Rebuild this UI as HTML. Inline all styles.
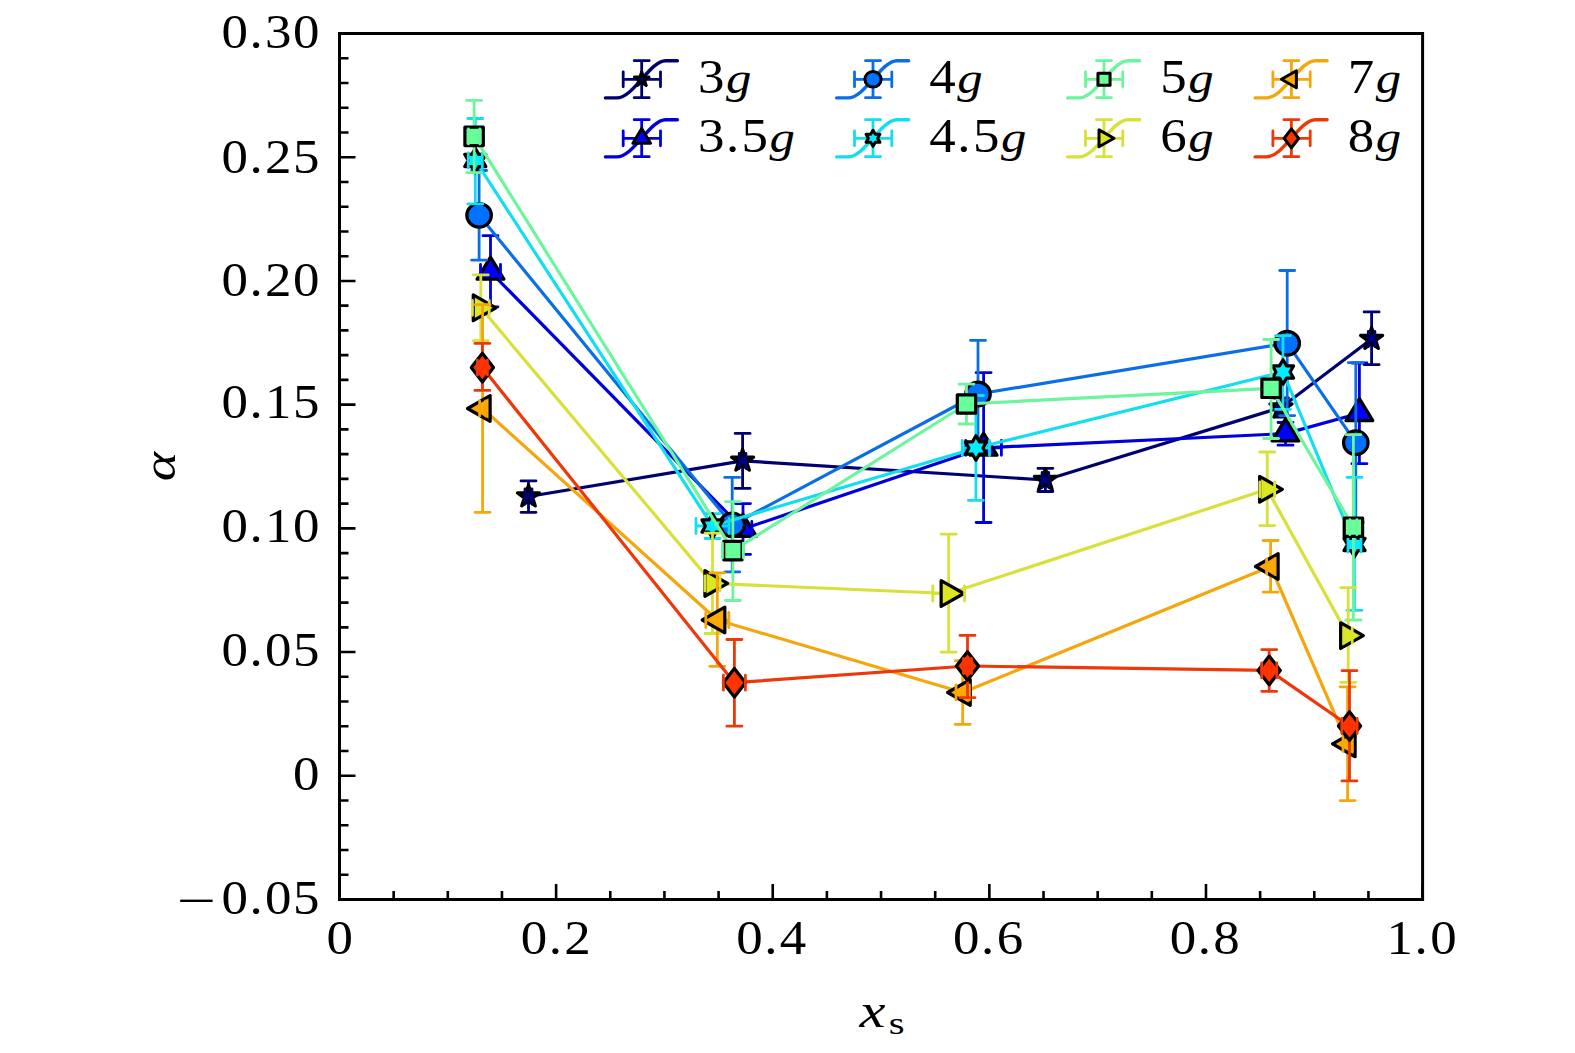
<!DOCTYPE html><html><head><meta charset="utf-8"><style>html,body{margin:0;padding:0;background:#fff;overflow:hidden;}svg{display:block;}text{font-family:"Liberation Serif",serif;}</style></head><body>
<svg width="1575" height="1053" viewBox="0 0 1575 1053">
<rect width="1575" height="1053" fill="#fff"/>
<path d="M528.50,496.50 L742.60,460.80 L1045.40,480.00 L1281.00,407.50 L1371.60,339.00" fill="none" stroke="#000072" stroke-width="3.2" stroke-linejoin="round"/>
<path d="M528.50,480.90 V512.30 M521.00,480.90 H536.00 M521.00,512.30 H536.00" stroke="#000072" stroke-width="2.8" stroke-linecap="round" fill="none"/>
<path d="M742.60,433.40 V488.40 M735.10,433.40 H750.10 M735.10,488.40 H750.10" stroke="#000072" stroke-width="2.8" stroke-linecap="round" fill="none"/>
<path d="M1045.40,468.30 V491.50 M1037.90,468.30 H1052.90 M1037.90,491.50 H1052.90" stroke="#000072" stroke-width="2.8" stroke-linecap="round" fill="none"/>
<path d="M1281.00,398.00 V417.00 M1273.50,398.00 H1288.50 M1273.50,417.00 H1288.50" stroke="#000072" stroke-width="2.8" stroke-linecap="round" fill="none"/>
<path d="M1371.60,311.90 V364.70 M1364.10,311.90 H1379.10 M1364.10,364.70 H1379.10" stroke="#000072" stroke-width="2.8" stroke-linecap="round" fill="none"/>
<path d="M525.00,496.50 H532.00" stroke="#000072" stroke-width="2.8" fill="none"/>
<path d="M739.30,460.80 H745.90" stroke="#000072" stroke-width="2.8" fill="none"/>
<path d="M1042.10,480.00 H1048.70" stroke="#000072" stroke-width="2.8" fill="none"/>
<path d="M1277.70,407.50 H1284.30" stroke="#000072" stroke-width="2.8" fill="none"/>
<path d="M1368.30,339.00 H1374.90" stroke="#000072" stroke-width="2.8" fill="none"/>
<path transform="translate(528.50,496.50)" d="M0.00,-11.60 L2.60,-3.58 L11.03,-3.58 L4.21,1.37 L6.82,9.38 L0.00,4.43 L-6.82,9.38 L-4.21,1.37 L-11.03,-3.58 L-2.60,-3.58Z" fill="#000080" stroke="#000" stroke-width="3.2" stroke-linejoin="round"/>
<path transform="translate(742.60,460.80)" d="M0.00,-11.60 L2.60,-3.58 L11.03,-3.58 L4.21,1.37 L6.82,9.38 L0.00,4.43 L-6.82,9.38 L-4.21,1.37 L-11.03,-3.58 L-2.60,-3.58Z" fill="#000080" stroke="#000" stroke-width="3.2" stroke-linejoin="round"/>
<path transform="translate(1045.40,480.00)" d="M0.00,-11.60 L2.60,-3.58 L11.03,-3.58 L4.21,1.37 L6.82,9.38 L0.00,4.43 L-6.82,9.38 L-4.21,1.37 L-11.03,-3.58 L-2.60,-3.58Z" fill="#000080" stroke="#000" stroke-width="3.2" stroke-linejoin="round"/>
<path transform="translate(1281.00,407.50)" d="M0.00,-11.60 L2.60,-3.58 L11.03,-3.58 L4.21,1.37 L6.82,9.38 L0.00,4.43 L-6.82,9.38 L-4.21,1.37 L-11.03,-3.58 L-2.60,-3.58Z" fill="#000080" stroke="#000" stroke-width="3.2" stroke-linejoin="round"/>
<path transform="translate(1371.60,339.00)" d="M0.00,-11.60 L2.60,-3.58 L11.03,-3.58 L4.21,1.37 L6.82,9.38 L0.00,4.43 L-6.82,9.38 L-4.21,1.37 L-11.03,-3.58 L-2.60,-3.58Z" fill="#000080" stroke="#000" stroke-width="3.2" stroke-linejoin="round"/>
<path d="M525.00,489.00 V504.00 M532.00,489.00 V504.00" stroke="#000072" stroke-width="2.8" stroke-linecap="round" fill="none"/>
<path d="M739.30,453.30 V468.30 M745.90,453.30 V468.30" stroke="#000072" stroke-width="2.8" stroke-linecap="round" fill="none"/>
<path d="M1042.10,472.50 V487.50 M1048.70,472.50 V487.50" stroke="#000072" stroke-width="2.8" stroke-linecap="round" fill="none"/>
<path d="M1277.70,400.00 V415.00 M1284.30,400.00 V415.00" stroke="#000072" stroke-width="2.8" stroke-linecap="round" fill="none"/>
<path d="M1368.30,331.50 V346.50 M1374.90,331.50 V346.50" stroke="#000072" stroke-width="2.8" stroke-linecap="round" fill="none"/>
<path d="M490.50,271.80 L743.00,529.00 L983.60,447.80 L1285.50,433.60 L1359.40,413.30" fill="none" stroke="#0000DC" stroke-width="3.2" stroke-linejoin="round"/>
<path d="M490.50,235.70 V306.80 M483.00,235.70 H498.00 M483.00,306.80 H498.00" stroke="#0000DC" stroke-width="2.8" stroke-linecap="round" fill="none"/>
<path d="M743.00,503.60 V554.40 M735.50,503.60 H750.50 M735.50,554.40 H750.50" stroke="#0000DC" stroke-width="2.8" stroke-linecap="round" fill="none"/>
<path d="M983.60,372.70 V522.50 M976.10,372.70 H991.10 M976.10,522.50 H991.10" stroke="#0000DC" stroke-width="2.8" stroke-linecap="round" fill="none"/>
<path d="M1285.50,422.50 V445.20 M1278.00,422.50 H1293.00 M1278.00,445.20 H1293.00" stroke="#0000DC" stroke-width="2.8" stroke-linecap="round" fill="none"/>
<path d="M1359.40,363.00 V463.70 M1351.90,363.00 H1366.90 M1351.90,463.70 H1366.90" stroke="#0000DC" stroke-width="2.8" stroke-linecap="round" fill="none"/>
<path d="M480.50,271.80 H500.50" stroke="#0000DC" stroke-width="2.8" fill="none"/>
<path d="M734.20,529.00 H751.80" stroke="#0000DC" stroke-width="2.8" fill="none"/>
<path d="M965.80,447.80 H1001.40" stroke="#0000DC" stroke-width="2.8" fill="none"/>
<path transform="translate(490.50,271.80)" d="M0,-14.73 L13.40,7.37 L-13.40,7.37Z" fill="#0000FF" stroke="#000" stroke-width="3.2" stroke-linejoin="round"/>
<path transform="translate(743.00,529.00)" d="M0,-14.73 L13.40,7.37 L-13.40,7.37Z" fill="#0000FF" stroke="#000" stroke-width="3.2" stroke-linejoin="round"/>
<path transform="translate(983.60,447.80)" d="M0,-14.73 L13.40,7.37 L-13.40,7.37Z" fill="#0000FF" stroke="#000" stroke-width="3.2" stroke-linejoin="round"/>
<path transform="translate(1285.50,433.60)" d="M0,-14.73 L13.40,7.37 L-13.40,7.37Z" fill="#0000FF" stroke="#000" stroke-width="3.2" stroke-linejoin="round"/>
<path transform="translate(1359.40,413.30)" d="M0,-14.73 L13.40,7.37 L-13.40,7.37Z" fill="#0000FF" stroke="#000" stroke-width="3.2" stroke-linejoin="round"/>
<path d="M480.50,264.30 V279.30 M500.50,264.30 V279.30" stroke="#0000DC" stroke-width="2.8" stroke-linecap="round" fill="none"/>
<path d="M734.20,521.50 V536.50 M751.80,521.50 V536.50" stroke="#0000DC" stroke-width="2.8" stroke-linecap="round" fill="none"/>
<path d="M965.80,440.30 V455.30 M1001.40,440.30 V455.30" stroke="#0000DC" stroke-width="2.8" stroke-linecap="round" fill="none"/>
<path d="M479.10,215.30 L732.20,524.80 L978.00,394.00 L1287.20,343.20 L1355.80,442.70" fill="none" stroke="#0A6EE6" stroke-width="3.2" stroke-linejoin="round"/>
<path d="M479.10,170.50 V260.10 M471.60,170.50 H486.60 M471.60,260.10 H486.60" stroke="#0A6EE6" stroke-width="2.8" stroke-linecap="round" fill="none"/>
<path d="M732.20,477.40 V571.90 M724.70,477.40 H739.70 M724.70,571.90 H739.70" stroke="#0A6EE6" stroke-width="2.8" stroke-linecap="round" fill="none"/>
<path d="M978.00,340.40 V447.60 M970.50,340.40 H985.50 M970.50,447.60 H985.50" stroke="#0A6EE6" stroke-width="2.8" stroke-linecap="round" fill="none"/>
<path d="M1287.20,270.50 V415.60 M1279.70,270.50 H1294.70 M1279.70,415.60 H1294.70" stroke="#0A6EE6" stroke-width="2.8" stroke-linecap="round" fill="none"/>
<path d="M1355.80,362.60 V522.40 M1348.30,362.60 H1363.30 M1348.30,522.40 H1363.30" stroke="#0A6EE6" stroke-width="2.8" stroke-linecap="round" fill="none"/>
<ellipse cx="479.10" cy="215.30" rx="12.27" ry="11.80" fill="#0072FF" stroke="#000" stroke-width="3.2"/>
<ellipse cx="732.20" cy="524.80" rx="12.27" ry="11.80" fill="#0072FF" stroke="#000" stroke-width="3.2"/>
<ellipse cx="978.00" cy="394.00" rx="12.27" ry="11.80" fill="#0072FF" stroke="#000" stroke-width="3.2"/>
<ellipse cx="1287.20" cy="343.20" rx="12.27" ry="11.80" fill="#0072FF" stroke="#000" stroke-width="3.2"/>
<ellipse cx="1355.80" cy="442.70" rx="12.27" ry="11.80" fill="#0072FF" stroke="#000" stroke-width="3.2"/>
<path d="M475.30,160.50 L712.50,526.00 L975.90,448.00 L1283.00,372.00 L1354.50,544.50" fill="none" stroke="#12DEF0" stroke-width="3.2" stroke-linejoin="round"/>
<path d="M475.30,118.50 V203.90 M467.80,118.50 H482.80 M467.80,203.90 H482.80" stroke="#12DEF0" stroke-width="2.8" stroke-linecap="round" fill="none"/>
<path d="M712.50,513.60 V538.50 M705.00,513.60 H720.00 M705.00,538.50 H720.00" stroke="#12DEF0" stroke-width="2.8" stroke-linecap="round" fill="none"/>
<path d="M975.90,395.50 V500.40 M968.40,395.50 H983.40 M968.40,500.40 H983.40" stroke="#12DEF0" stroke-width="2.8" stroke-linecap="round" fill="none"/>
<path d="M1283.00,335.70 V409.40 M1275.50,335.70 H1290.50 M1275.50,409.40 H1290.50" stroke="#12DEF0" stroke-width="2.8" stroke-linecap="round" fill="none"/>
<path d="M1354.50,477.30 V610.30 M1347.00,477.30 H1362.00 M1347.00,610.30 H1362.00" stroke="#12DEF0" stroke-width="2.8" stroke-linecap="round" fill="none"/>
<path d="M468.30,160.50 H482.30" stroke="#12DEF0" stroke-width="2.8" fill="none"/>
<path d="M696.00,526.00 H729.00" stroke="#12DEF0" stroke-width="2.8" fill="none"/>
<path d="M962.30,448.00 H989.50" stroke="#12DEF0" stroke-width="2.8" fill="none"/>
<path d="M1348.00,544.50 H1361.00" stroke="#12DEF0" stroke-width="2.8" fill="none"/>
<path transform="translate(475.30,160.50)" d="M0.00,-12.20 L3.52,-6.10 L10.57,-6.10 L7.04,0.00 L10.57,6.10 L3.52,6.10 L0.00,12.20 L-3.52,6.10 L-10.57,6.10 L-7.04,0.00 L-10.57,-6.10 L-3.52,-6.10Z" fill="#00EEFF" stroke="#000" stroke-width="3.2" stroke-linejoin="round"/>
<path transform="translate(712.50,526.00)" d="M0.00,-12.20 L3.52,-6.10 L10.57,-6.10 L7.04,0.00 L10.57,6.10 L3.52,6.10 L0.00,12.20 L-3.52,6.10 L-10.57,6.10 L-7.04,0.00 L-10.57,-6.10 L-3.52,-6.10Z" fill="#00EEFF" stroke="#000" stroke-width="3.2" stroke-linejoin="round"/>
<path transform="translate(975.90,448.00)" d="M0.00,-12.20 L3.52,-6.10 L10.57,-6.10 L7.04,0.00 L10.57,6.10 L3.52,6.10 L0.00,12.20 L-3.52,6.10 L-10.57,6.10 L-7.04,0.00 L-10.57,-6.10 L-3.52,-6.10Z" fill="#00EEFF" stroke="#000" stroke-width="3.2" stroke-linejoin="round"/>
<path transform="translate(1283.00,372.00)" d="M0.00,-12.20 L3.52,-6.10 L10.57,-6.10 L7.04,0.00 L10.57,6.10 L3.52,6.10 L0.00,12.20 L-3.52,6.10 L-10.57,6.10 L-7.04,0.00 L-10.57,-6.10 L-3.52,-6.10Z" fill="#00EEFF" stroke="#000" stroke-width="3.2" stroke-linejoin="round"/>
<path transform="translate(1354.50,544.50)" d="M0.00,-12.20 L3.52,-6.10 L10.57,-6.10 L7.04,0.00 L10.57,6.10 L3.52,6.10 L0.00,12.20 L-3.52,6.10 L-10.57,6.10 L-7.04,0.00 L-10.57,-6.10 L-3.52,-6.10Z" fill="#00EEFF" stroke="#000" stroke-width="3.2" stroke-linejoin="round"/>
<path d="M468.30,153.00 V168.00 M482.30,153.00 V168.00" stroke="#12DEF0" stroke-width="2.8" stroke-linecap="round" fill="none"/>
<path d="M696.00,518.50 V533.50 M729.00,518.50 V533.50" stroke="#12DEF0" stroke-width="2.8" stroke-linecap="round" fill="none"/>
<path d="M962.30,440.50 V455.50 M989.50,440.50 V455.50" stroke="#12DEF0" stroke-width="2.8" stroke-linecap="round" fill="none"/>
<path d="M1348.00,537.00 V552.00 M1361.00,537.00 V552.00" stroke="#12DEF0" stroke-width="2.8" stroke-linecap="round" fill="none"/>
<path d="M474.10,136.40 L732.90,550.60 L966.50,404.00 L1271.10,388.30 L1353.40,527.20" fill="none" stroke="#6CF59C" stroke-width="3.2" stroke-linejoin="round"/>
<path d="M474.10,100.40 V172.60 M466.60,100.40 H481.60 M466.60,172.60 H481.60" stroke="#6CF59C" stroke-width="2.8" stroke-linecap="round" fill="none"/>
<path d="M732.90,501.70 V600.50 M725.40,501.70 H740.40 M725.40,600.50 H740.40" stroke="#6CF59C" stroke-width="2.8" stroke-linecap="round" fill="none"/>
<path d="M966.50,384.10 V424.00 M959.00,384.10 H974.00 M959.00,424.00 H974.00" stroke="#6CF59C" stroke-width="2.8" stroke-linecap="round" fill="none"/>
<path d="M1271.10,339.50 V438.50 M1263.60,339.50 H1278.60 M1263.60,438.50 H1278.60" stroke="#6CF59C" stroke-width="2.8" stroke-linecap="round" fill="none"/>
<path d="M1353.40,434.60 V620.00 M1345.90,434.60 H1360.90 M1345.90,620.00 H1360.90" stroke="#6CF59C" stroke-width="2.8" stroke-linecap="round" fill="none"/>
<path d="M468.40,136.40 H479.80" stroke="#6CF59C" stroke-width="2.8" fill="none"/>
<path d="M722.40,550.60 H743.40" stroke="#6CF59C" stroke-width="2.8" fill="none"/>
<path d="M1349.90,527.20 H1356.90" stroke="#6CF59C" stroke-width="2.8" fill="none"/>
<path transform="translate(474.10,136.40)" d="M-9.20,-9.20 h18.40 v18.40 h-18.40Z" fill="#66FF99" stroke="#000" stroke-width="3.2" stroke-linejoin="round"/>
<path transform="translate(732.90,550.60)" d="M-9.20,-9.20 h18.40 v18.40 h-18.40Z" fill="#66FF99" stroke="#000" stroke-width="3.2" stroke-linejoin="round"/>
<path transform="translate(966.50,404.00)" d="M-9.20,-9.20 h18.40 v18.40 h-18.40Z" fill="#66FF99" stroke="#000" stroke-width="3.2" stroke-linejoin="round"/>
<path transform="translate(1271.10,388.30)" d="M-9.20,-9.20 h18.40 v18.40 h-18.40Z" fill="#66FF99" stroke="#000" stroke-width="3.2" stroke-linejoin="round"/>
<path transform="translate(1353.40,527.20)" d="M-9.20,-9.20 h18.40 v18.40 h-18.40Z" fill="#66FF99" stroke="#000" stroke-width="3.2" stroke-linejoin="round"/>
<path d="M468.40,128.90 V143.90 M479.80,128.90 V143.90" stroke="#6CF59C" stroke-width="2.8" stroke-linecap="round" fill="none"/>
<path d="M722.40,543.10 V558.10 M743.40,543.10 V558.10" stroke="#6CF59C" stroke-width="2.8" stroke-linecap="round" fill="none"/>
<path d="M1349.90,519.70 V534.70 M1356.90,519.70 V534.70" stroke="#6CF59C" stroke-width="2.8" stroke-linecap="round" fill="none"/>
<path d="M480.80,307.80 L712.50,583.40 L948.70,593.50 L1267.20,489.30 L1348.20,635.60" fill="none" stroke="#D8E03A" stroke-width="3.2" stroke-linejoin="round"/>
<path d="M480.80,274.80 V340.60 M473.30,274.80 H488.30 M473.30,340.60 H488.30" stroke="#D8E03A" stroke-width="2.8" stroke-linecap="round" fill="none"/>
<path d="M712.50,533.20 V633.50 M705.00,533.20 H720.00 M705.00,633.50 H720.00" stroke="#D8E03A" stroke-width="2.8" stroke-linecap="round" fill="none"/>
<path d="M948.70,534.20 V652.10 M941.20,534.20 H956.20 M941.20,652.10 H956.20" stroke="#D8E03A" stroke-width="2.8" stroke-linecap="round" fill="none"/>
<path d="M1267.20,452.00 V525.60 M1259.70,452.00 H1274.70 M1259.70,525.60 H1274.70" stroke="#D8E03A" stroke-width="2.8" stroke-linecap="round" fill="none"/>
<path d="M1348.20,587.60 V682.40 M1340.70,587.60 H1355.70 M1340.70,682.40 H1355.70" stroke="#D8E03A" stroke-width="2.8" stroke-linecap="round" fill="none"/>
<path d="M472.40,307.80 H489.20" stroke="#D8E03A" stroke-width="2.8" fill="none"/>
<path d="M705.00,583.40 H720.00" stroke="#D8E03A" stroke-width="2.8" fill="none"/>
<path d="M932.80,593.50 H964.60" stroke="#D8E03A" stroke-width="2.8" fill="none"/>
<path d="M1259.80,489.30 H1274.60" stroke="#D8E03A" stroke-width="2.8" fill="none"/>
<path d="M1344.20,635.60 H1352.20" stroke="#D8E03A" stroke-width="2.8" fill="none"/>
<path transform="translate(480.80,307.80)" d="M15.13,0 L-7.57,12.85 L-7.57,-12.85Z" fill="#DCE622" stroke="#000" stroke-width="3.2" stroke-linejoin="round"/>
<path transform="translate(712.50,583.40)" d="M15.13,0 L-7.57,12.85 L-7.57,-12.85Z" fill="#DCE622" stroke="#000" stroke-width="3.2" stroke-linejoin="round"/>
<path transform="translate(948.70,593.50)" d="M15.13,0 L-7.57,12.85 L-7.57,-12.85Z" fill="#DCE622" stroke="#000" stroke-width="3.2" stroke-linejoin="round"/>
<path transform="translate(1267.20,489.30)" d="M15.13,0 L-7.57,12.85 L-7.57,-12.85Z" fill="#DCE622" stroke="#000" stroke-width="3.2" stroke-linejoin="round"/>
<path transform="translate(1348.20,635.60)" d="M15.13,0 L-7.57,12.85 L-7.57,-12.85Z" fill="#DCE622" stroke="#000" stroke-width="3.2" stroke-linejoin="round"/>
<path d="M472.40,300.30 V315.30 M489.20,300.30 V315.30" stroke="#D8E03A" stroke-width="2.8" stroke-linecap="round" fill="none"/>
<path d="M705.00,575.90 V590.90 M720.00,575.90 V590.90" stroke="#D8E03A" stroke-width="2.8" stroke-linecap="round" fill="none"/>
<path d="M932.80,586.00 V601.00 M964.60,586.00 V601.00" stroke="#D8E03A" stroke-width="2.8" stroke-linecap="round" fill="none"/>
<path d="M1259.80,481.80 V496.80 M1274.60,481.80 V496.80" stroke="#D8E03A" stroke-width="2.8" stroke-linecap="round" fill="none"/>
<path d="M1344.20,628.10 V643.10 M1352.20,628.10 V643.10" stroke="#D8E03A" stroke-width="2.8" stroke-linecap="round" fill="none"/>
<path d="M482.60,408.50 L717.30,620.00 L962.70,692.50 L1270.60,566.50 L1347.60,743.90" fill="none" stroke="#F4A60C" stroke-width="3.2" stroke-linejoin="round"/>
<path d="M482.60,304.70 V512.30 M475.10,304.70 H490.10 M475.10,512.30 H490.10" stroke="#F4A60C" stroke-width="2.8" stroke-linecap="round" fill="none"/>
<path d="M717.30,572.80 V666.30 M709.80,572.80 H724.80 M709.80,666.30 H724.80" stroke="#F4A60C" stroke-width="2.8" stroke-linecap="round" fill="none"/>
<path d="M962.70,660.70 V724.30 M955.20,660.70 H970.20 M955.20,724.30 H970.20" stroke="#F4A60C" stroke-width="2.8" stroke-linecap="round" fill="none"/>
<path d="M1270.60,540.50 V592.10 M1263.10,540.50 H1278.10 M1263.10,592.10 H1278.10" stroke="#F4A60C" stroke-width="2.8" stroke-linecap="round" fill="none"/>
<path d="M1347.60,686.80 V800.60 M1340.10,686.80 H1355.10 M1340.10,800.60 H1355.10" stroke="#F4A60C" stroke-width="2.8" stroke-linecap="round" fill="none"/>
<path d="M479.60,408.50 H485.60" stroke="#F4A60C" stroke-width="2.8" fill="none"/>
<path d="M705.80,620.00 H728.80" stroke="#F4A60C" stroke-width="2.8" fill="none"/>
<path d="M956.00,692.50 H969.40" stroke="#F4A60C" stroke-width="2.8" fill="none"/>
<path d="M1266.60,566.50 H1274.60" stroke="#F4A60C" stroke-width="2.8" fill="none"/>
<path d="M1343.00,743.90 H1352.20" stroke="#F4A60C" stroke-width="2.8" fill="none"/>
<path transform="translate(482.60,408.50)" d="M-15.07,0 L7.53,-12.85 L7.53,12.85Z" fill="#FFAA00" stroke="#000" stroke-width="3.2" stroke-linejoin="round"/>
<path transform="translate(717.30,620.00)" d="M-15.07,0 L7.53,-12.85 L7.53,12.85Z" fill="#FFAA00" stroke="#000" stroke-width="3.2" stroke-linejoin="round"/>
<path transform="translate(962.70,692.50)" d="M-15.07,0 L7.53,-12.85 L7.53,12.85Z" fill="#FFAA00" stroke="#000" stroke-width="3.2" stroke-linejoin="round"/>
<path transform="translate(1270.60,566.50)" d="M-15.07,0 L7.53,-12.85 L7.53,12.85Z" fill="#FFAA00" stroke="#000" stroke-width="3.2" stroke-linejoin="round"/>
<path transform="translate(1347.60,743.90)" d="M-15.07,0 L7.53,-12.85 L7.53,12.85Z" fill="#FFAA00" stroke="#000" stroke-width="3.2" stroke-linejoin="round"/>
<path d="M479.60,401.00 V416.00 M485.60,401.00 V416.00" stroke="#F4A60C" stroke-width="2.8" stroke-linecap="round" fill="none"/>
<path d="M705.80,612.50 V627.50 M728.80,612.50 V627.50" stroke="#F4A60C" stroke-width="2.8" stroke-linecap="round" fill="none"/>
<path d="M956.00,685.00 V700.00 M969.40,685.00 V700.00" stroke="#F4A60C" stroke-width="2.8" stroke-linecap="round" fill="none"/>
<path d="M1266.60,559.00 V574.00 M1274.60,559.00 V574.00" stroke="#F4A60C" stroke-width="2.8" stroke-linecap="round" fill="none"/>
<path d="M1343.00,736.40 V751.40 M1352.20,736.40 V751.40" stroke="#F4A60C" stroke-width="2.8" stroke-linecap="round" fill="none"/>
<path d="M482.40,367.60 L734.40,682.70 L967.50,666.00 L1269.20,670.40 L1349.50,726.00" fill="none" stroke="#EE380A" stroke-width="3.2" stroke-linejoin="round"/>
<path d="M482.40,343.40 V390.40 M474.90,343.40 H489.90 M474.90,390.40 H489.90" stroke="#EE380A" stroke-width="2.8" stroke-linecap="round" fill="none"/>
<path d="M734.40,639.50 V726.20 M726.90,639.50 H741.90 M726.90,726.20 H741.90" stroke="#EE380A" stroke-width="2.8" stroke-linecap="round" fill="none"/>
<path d="M967.50,635.40 V697.70 M960.00,635.40 H975.00 M960.00,697.70 H975.00" stroke="#EE380A" stroke-width="2.8" stroke-linecap="round" fill="none"/>
<path d="M1269.20,649.60 V691.30 M1261.70,649.60 H1276.70 M1261.70,691.30 H1276.70" stroke="#EE380A" stroke-width="2.8" stroke-linecap="round" fill="none"/>
<path d="M1349.50,670.60 V780.90 M1342.00,670.60 H1357.00 M1342.00,780.90 H1357.00" stroke="#EE380A" stroke-width="2.8" stroke-linecap="round" fill="none"/>
<path d="M477.40,367.60 H487.40" stroke="#EE380A" stroke-width="2.8" fill="none"/>
<path d="M723.40,682.70 H745.40" stroke="#EE380A" stroke-width="2.8" fill="none"/>
<path d="M963.50,666.00 H971.50" stroke="#EE380A" stroke-width="2.8" fill="none"/>
<path d="M1261.60,670.40 H1276.80" stroke="#EE380A" stroke-width="2.8" fill="none"/>
<path d="M1341.80,726.00 H1357.20" stroke="#EE380A" stroke-width="2.8" fill="none"/>
<path transform="translate(482.40,367.60)" d="M0,-14.30 L11.10,0 L0,14.30 L-11.10,0Z" fill="#FF3300" stroke="#000" stroke-width="3.2" stroke-linejoin="round"/>
<path transform="translate(734.40,682.70)" d="M0,-14.30 L11.10,0 L0,14.30 L-11.10,0Z" fill="#FF3300" stroke="#000" stroke-width="3.2" stroke-linejoin="round"/>
<path transform="translate(967.50,666.00)" d="M0,-14.30 L11.10,0 L0,14.30 L-11.10,0Z" fill="#FF3300" stroke="#000" stroke-width="3.2" stroke-linejoin="round"/>
<path transform="translate(1269.20,670.40)" d="M0,-14.30 L11.10,0 L0,14.30 L-11.10,0Z" fill="#FF3300" stroke="#000" stroke-width="3.2" stroke-linejoin="round"/>
<path transform="translate(1349.50,726.00)" d="M0,-14.30 L11.10,0 L0,14.30 L-11.10,0Z" fill="#FF3300" stroke="#000" stroke-width="3.2" stroke-linejoin="round"/>
<path d="M477.40,360.10 V375.10 M487.40,360.10 V375.10" stroke="#EE380A" stroke-width="2.8" stroke-linecap="round" fill="none"/>
<path d="M723.40,675.20 V690.20 M745.40,675.20 V690.20" stroke="#EE380A" stroke-width="2.8" stroke-linecap="round" fill="none"/>
<path d="M963.50,658.50 V673.50 M971.50,658.50 V673.50" stroke="#EE380A" stroke-width="2.8" stroke-linecap="round" fill="none"/>
<path d="M1261.60,662.90 V677.90 M1276.80,662.90 V677.90" stroke="#EE380A" stroke-width="2.8" stroke-linecap="round" fill="none"/>
<path d="M1341.80,718.50 V733.50 M1357.20,718.50 V733.50" stroke="#EE380A" stroke-width="2.8" stroke-linecap="round" fill="none"/>
<rect x="339.5" y="33.5" width="1083.10" height="866.00" fill="none" stroke="#000" stroke-width="3"/>
<path d="M339.5,899.50 H355.5 M339.5,874.76 H348.5 M339.5,850.01 H348.5 M339.5,825.27 H348.5 M339.5,800.53 H348.5 M339.5,775.79 H355.5 M339.5,751.04 H348.5 M339.5,726.30 H348.5 M339.5,701.56 H348.5 M339.5,676.81 H348.5 M339.5,652.07 H355.5 M339.5,627.33 H348.5 M339.5,602.59 H348.5 M339.5,577.84 H348.5 M339.5,553.10 H348.5 M339.5,528.36 H355.5 M339.5,503.61 H348.5 M339.5,478.87 H348.5 M339.5,454.13 H348.5 M339.5,429.39 H348.5 M339.5,404.64 H355.5 M339.5,379.90 H348.5 M339.5,355.16 H348.5 M339.5,330.41 H348.5 M339.5,305.67 H348.5 M339.5,280.93 H355.5 M339.5,256.19 H348.5 M339.5,231.44 H348.5 M339.5,206.70 H348.5 M339.5,181.96 H348.5 M339.5,157.21 H355.5 M339.5,132.47 H348.5 M339.5,107.73 H348.5 M339.5,82.99 H348.5 M339.5,58.24 H348.5 M339.5,33.50 H355.5 M339.50,899.5 V884.0 M393.65,899.5 V891.0 M447.81,899.5 V891.0 M501.96,899.5 V891.0 M556.12,899.5 V884.0 M610.27,899.5 V891.0 M664.43,899.5 V891.0 M718.58,899.5 V891.0 M772.74,899.5 V884.0 M826.89,899.5 V891.0 M881.05,899.5 V891.0 M935.21,899.5 V891.0 M989.36,899.5 V884.0 M1043.51,899.5 V891.0 M1097.67,899.5 V891.0 M1151.82,899.5 V891.0 M1205.98,899.5 V884.0 M1260.13,899.5 V891.0 M1314.29,899.5 V891.0 M1368.44,899.5 V891.0 M1422.60,899.5 V884.0" stroke="#000" stroke-width="2.6" fill="none"/>
<text transform="translate(221.40,48.20) scale(1.08,1)" font-size="49.0" x="0.00 25.93 40.37 66.30" y="0">0.30</text>
<text transform="translate(221.40,172.90) scale(1.08,1)" font-size="49.0" x="0.00 25.93 40.37 66.30" y="0">0.25</text>
<text transform="translate(221.40,296.00) scale(1.08,1)" font-size="49.0" x="0.00 25.93 40.37 66.30" y="0">0.20</text>
<text transform="translate(221.40,417.90) scale(1.08,1)" font-size="49.0" x="0.00 25.93 40.37 66.30" y="0">0.15</text>
<text transform="translate(221.40,542.40) scale(1.08,1)" font-size="49.0" x="0.00 25.93 40.37 66.30" y="0">0.10</text>
<text transform="translate(221.40,665.70) scale(1.08,1)" font-size="49.0" x="0.00 25.93 40.37 66.30" y="0">0.05</text>
<text transform="translate(293.00,789.80) scale(1.08,1)" font-size="49.0" x="0.00" y="0">0</text>
<text transform="translate(221.40,914.10) scale(1.08,1)" font-size="49.0" x="0.00 25.93 40.37 66.30" y="0">0.05</text>
<rect x="180.2" y="899.6" width="32.4" height="2.4" fill="#000"/>
<text transform="translate(326.47,954.40) scale(1.08,1)" font-size="49.0" x="0.00" y="0">0</text>
<text transform="translate(520.77,954.40) scale(1.08,1)" font-size="49.0" x="0.00 25.93 40.37" y="0">0.2</text>
<text transform="translate(736.21,954.40) scale(1.08,1)" font-size="49.0" x="0.00 25.93 40.37" y="0">0.4</text>
<text transform="translate(953.11,954.40) scale(1.08,1)" font-size="49.0" x="0.00 25.93 40.37" y="0">0.6</text>
<text transform="translate(1169.77,954.40) scale(1.08,1)" font-size="49.0" x="0.00 25.93 40.37" y="0">0.8</text>
<text transform="translate(1386.55,954.40) scale(1.08,1)" font-size="49.0" x="0.00 25.93 40.37" y="0">1.0</text>
<text transform="translate(175.2,481.3) rotate(-90) scale(1.22,1)" font-size="45.8" font-style="italic">α</text>
<text transform="translate(859.6,1026.5) scale(1.23,1)" font-size="47.6" font-style="italic">x</text>
<text transform="translate(888.7,1034.1) scale(1.25,1)" font-size="32.5">s</text>
<path d="M605.40,97.90 H616.70 C633.70,97.90 649.70,60.70 665.70,60.70 H677.40" fill="none" stroke="#000072" stroke-width="3.4" stroke-linecap="round"/>
<path d="M641.70,60.70 V97.70 M634.20,60.70 H649.20 M634.20,97.70 H649.20 M623.20,79.30 H660.50 M623.20,71.80 V86.80 M660.50,71.80 V86.80" stroke="#000072" stroke-width="2.8" stroke-linecap="round" fill="none"/>
<path transform="translate(641.70,79.30)" d="M0.00,-7.66 L1.72,-2.37 L7.28,-2.37 L2.78,0.90 L4.50,6.19 L0.00,2.92 L-4.50,6.19 L-2.78,0.90 L-7.28,-2.37 L-1.72,-2.37Z" fill="#000080" stroke="#000" stroke-width="3.0" stroke-linejoin="round"/>
<text transform="translate(698.00,93.10) scale(1.08,1)" font-size="49.0" x="0.00" y="0">3</text>
<text transform="translate(726.00,93.10) scale(1.13,1)" font-size="45" font-style="italic">g</text>
<path d="M605.40,156.90 H616.70 C633.70,156.90 649.70,119.70 665.70,119.70 H677.40" fill="none" stroke="#0000DC" stroke-width="3.4" stroke-linecap="round"/>
<path d="M641.70,119.70 V156.70 M634.20,119.70 H649.20 M634.20,156.70 H649.20 M623.20,138.30 H660.50 M623.20,130.80 V145.80 M660.50,130.80 V145.80" stroke="#0000DC" stroke-width="2.8" stroke-linecap="round" fill="none"/>
<path transform="translate(641.70,138.30)" d="M0,-9.72 L8.84,4.86 L-8.84,4.86Z" fill="#0000FF" stroke="#000" stroke-width="3.0" stroke-linejoin="round"/>
<text transform="translate(698.00,152.10) scale(1.08,1)" font-size="49.0" x="0.00 25.93 40.37" y="0">3.5</text>
<text transform="translate(769.60,152.10) scale(1.13,1)" font-size="45" font-style="italic">g</text>
<path d="M836.70,97.90 H848.00 C865.00,97.90 881.00,60.70 897.00,60.70 H908.70" fill="none" stroke="#0A6EE6" stroke-width="3.4" stroke-linecap="round"/>
<path d="M873.00,60.70 V97.70 M865.50,60.70 H880.50 M865.50,97.70 H880.50 M854.50,79.30 H891.80 M854.50,71.80 V86.80 M891.80,71.80 V86.80" stroke="#0A6EE6" stroke-width="2.8" stroke-linecap="round" fill="none"/>
<ellipse cx="873.00" cy="79.30" rx="8.10" ry="7.79" fill="#0072FF" stroke="#000" stroke-width="3.0"/>
<text transform="translate(929.30,93.10) scale(1.08,1)" font-size="49.0" x="0.00" y="0">4</text>
<text transform="translate(957.30,93.10) scale(1.13,1)" font-size="45" font-style="italic">g</text>
<path d="M836.70,156.90 H848.00 C865.00,156.90 881.00,119.70 897.00,119.70 H908.70" fill="none" stroke="#12DEF0" stroke-width="3.4" stroke-linecap="round"/>
<path d="M873.00,119.70 V156.70 M865.50,119.70 H880.50 M865.50,156.70 H880.50 M854.50,138.30 H891.80 M854.50,130.80 V145.80 M891.80,130.80 V145.80" stroke="#12DEF0" stroke-width="2.8" stroke-linecap="round" fill="none"/>
<path transform="translate(873.00,138.30)" d="M0.00,-8.05 L2.32,-4.03 L6.97,-4.03 L4.65,0.00 L6.97,4.03 L2.32,4.03 L0.00,8.05 L-2.32,4.03 L-6.97,4.03 L-4.65,0.00 L-6.97,-4.03 L-2.32,-4.03Z" fill="#00EEFF" stroke="#000" stroke-width="3.0" stroke-linejoin="round"/>
<text transform="translate(929.30,152.10) scale(1.08,1)" font-size="49.0" x="0.00 25.93 40.37" y="0">4.5</text>
<text transform="translate(1000.90,152.10) scale(1.13,1)" font-size="45" font-style="italic">g</text>
<path d="M1067.70,97.90 H1079.00 C1096.00,97.90 1112.00,60.70 1128.00,60.70 H1139.70" fill="none" stroke="#6CF59C" stroke-width="3.4" stroke-linecap="round"/>
<path d="M1104.00,60.70 V97.70 M1096.50,60.70 H1111.50 M1096.50,97.70 H1111.50 M1085.50,79.30 H1122.80 M1085.50,71.80 V86.80 M1122.80,71.80 V86.80" stroke="#6CF59C" stroke-width="2.8" stroke-linecap="round" fill="none"/>
<path transform="translate(1104.00,79.30)" d="M-6.07,-6.07 h12.14 v12.14 h-12.14Z" fill="#66FF99" stroke="#000" stroke-width="3.0" stroke-linejoin="round"/>
<text transform="translate(1160.30,93.10) scale(1.08,1)" font-size="49.0" x="0.00" y="0">5</text>
<text transform="translate(1188.30,93.10) scale(1.13,1)" font-size="45" font-style="italic">g</text>
<path d="M1067.70,156.90 H1079.00 C1096.00,156.90 1112.00,119.70 1128.00,119.70 H1139.70" fill="none" stroke="#D8E03A" stroke-width="3.4" stroke-linecap="round"/>
<path d="M1104.00,119.70 V156.70 M1096.50,119.70 H1111.50 M1096.50,156.70 H1111.50 M1085.50,138.30 H1122.80 M1085.50,130.80 V145.80 M1122.80,130.80 V145.80" stroke="#D8E03A" stroke-width="2.8" stroke-linecap="round" fill="none"/>
<path transform="translate(1104.00,138.30)" d="M9.99,0 L-4.99,8.48 L-4.99,-8.48Z" fill="#DCE622" stroke="#000" stroke-width="3.0" stroke-linejoin="round"/>
<text transform="translate(1160.30,152.10) scale(1.08,1)" font-size="49.0" x="0.00" y="0">6</text>
<text transform="translate(1188.30,152.10) scale(1.13,1)" font-size="45" font-style="italic">g</text>
<path d="M1255.10,97.90 H1266.40 C1283.40,97.90 1299.40,60.70 1315.40,60.70 H1327.10" fill="none" stroke="#F4A60C" stroke-width="3.4" stroke-linecap="round"/>
<path d="M1291.40,60.70 V97.70 M1283.90,60.70 H1298.90 M1283.90,97.70 H1298.90 M1272.90,79.30 H1310.20 M1272.90,71.80 V86.80 M1310.20,71.80 V86.80" stroke="#F4A60C" stroke-width="2.8" stroke-linecap="round" fill="none"/>
<path transform="translate(1291.40,79.30)" d="M-9.94,0 L4.97,-8.48 L4.97,8.48Z" fill="#FFAA00" stroke="#000" stroke-width="3.0" stroke-linejoin="round"/>
<text transform="translate(1347.70,93.10) scale(1.08,1)" font-size="49.0" x="0.00" y="0">7</text>
<text transform="translate(1375.70,93.10) scale(1.13,1)" font-size="45" font-style="italic">g</text>
<path d="M1255.10,156.90 H1266.40 C1283.40,156.90 1299.40,119.70 1315.40,119.70 H1327.10" fill="none" stroke="#EE380A" stroke-width="3.4" stroke-linecap="round"/>
<path d="M1291.40,119.70 V156.70 M1283.90,119.70 H1298.90 M1283.90,156.70 H1298.90 M1272.90,138.30 H1310.20 M1272.90,130.80 V145.80 M1310.20,130.80 V145.80" stroke="#EE380A" stroke-width="2.8" stroke-linecap="round" fill="none"/>
<path transform="translate(1291.40,138.30)" d="M0,-9.44 L7.33,0 L0,9.44 L-7.33,0Z" fill="#FF3300" stroke="#000" stroke-width="3.0" stroke-linejoin="round"/>
<text transform="translate(1347.70,152.10) scale(1.08,1)" font-size="49.0" x="0.00" y="0">8</text>
<text transform="translate(1375.70,152.10) scale(1.13,1)" font-size="45" font-style="italic">g</text>
</svg></body></html>
